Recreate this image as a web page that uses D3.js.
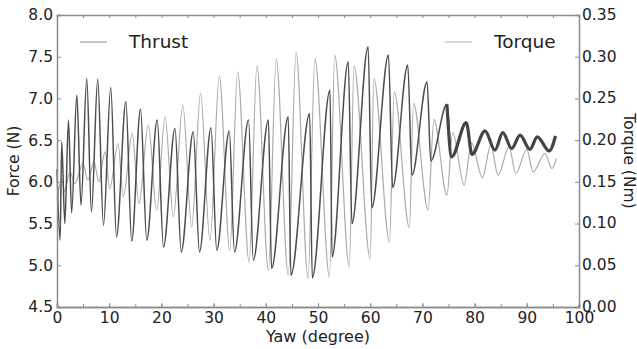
<!DOCTYPE html>
<html>
<head>
<meta charset="utf-8">
<script src="https://cdn.jsdelivr.net/npm/d3@7"></script>
<style>
  body { margin: 0; background: #fff; }
  svg { display: block; font-family: 'DejaVu Sans', sans-serif; }
</style>
</head>
<body>
<div class="container"></div>
<script>
// peaks / troughs (yaw in degrees)
const thrustYaw = [0, 0.6, 0.9, 1.5, 2.2, 2.8, 3.8, 4.6, 5.7, 6.6, 7.8, 8.9, 10.3, 11.4, 13.2, 14.3,
    16.0, 17.2, 19.2, 20.4, 22.6, 23.8, 26.1, 27.3, 29.5, 30.6, 33.0, 34.0, 36.7, 37.6, 40.5, 41.1,
    44.3, 44.8, 48.4, 48.9, 52.3, 52.7, 55.8, 56.5, 59.6, 60.3, 63.5, 64.3, 67.2, 68.0, 70.9, 71.6,
    74.7, 75.6, 78.4, 79.5, 82.0, 83.9, 85.4, 87.1, 88.7, 90.6, 92.0, 94.3, 95.5];
const thrustN = [6.15, 5.30, 6.48, 5.50, 6.74, 5.63, 7.04, 5.72, 7.24, 5.64, 7.23, 5.48, 7.13, 5.34, 6.96, 5.29,
    6.87, 5.30, 6.74, 5.22, 6.64, 5.16, 6.60, 5.16, 6.65, 5.18, 6.61, 5.16, 6.74, 5.06, 6.74, 4.96,
    6.78, 4.88, 6.82, 4.85, 7.10, 5.10, 7.44, 5.50, 7.62, 5.69, 7.52, 5.93, 7.40, 6.08, 7.20, 6.25,
    6.93, 6.30, 6.71, 6.33, 6.61, 6.38, 6.59, 6.40, 6.56, 6.39, 6.54, 6.37, 6.55];

const torqueYaw = [0, 1.0, 1.4, 2.5, 3.4, 5.0, 5.9, 7.1, 8.0, 9.2, 10.1, 11.7, 12.7, 14.4, 15.7, 17.5,
    19.1, 20.7, 22.3, 24.1, 25.8, 27.5, 29.3, 31.1, 33.1, 34.6, 36.8, 38.3, 40.5, 42.0, 44.3, 45.8,
    48.1, 49.4, 52.2, 53.2, 56.0, 56.9, 60.0, 60.7, 63.7, 64.6, 67.5, 68.3, 71.1, 72.2, 74.7, 75.8,
    78.0, 79.4, 81.5, 83.1, 84.5, 86.6, 87.9, 90.0, 91.2, 93.5, 94.8, 95.7];
const torqueNm = [0.130, 0.152, 0.138, 0.162, 0.148, 0.172, 0.152, 0.174, 0.150, 0.186, 0.142, 0.196, 0.132, 0.208, 0.124, 0.218,
    0.116, 0.228, 0.108, 0.242, 0.096, 0.256, 0.080, 0.277, 0.068, 0.282, 0.054, 0.289, 0.044, 0.297, 0.038, 0.305,
    0.034, 0.298, 0.036, 0.302, 0.048, 0.289, 0.058, 0.274, 0.078, 0.258, 0.095, 0.244, 0.116, 0.225, 0.134, 0.209,
    0.146, 0.197, 0.155, 0.194, 0.158, 0.192, 0.160, 0.189, 0.162, 0.184, 0.166, 0.178];

const xTicks = [0, 10, 20, 30, 40, 50, 60, 70, 80, 90, 100];
const forceTicks = [4.5, 5.0, 5.5, 6.0, 6.5, 7.0, 7.5, 8.0];
const torqueTicks = [0.00, 0.05, 0.10, 0.15, 0.20, 0.25, 0.30, 0.35];

const width = 637, height = 349;
const margin = {top: 15, right: 58, bottom: 42, left: 57};

const svg = d3.select('.container')
    .append('svg')
    .attr('width', width)
    .attr('height', height);

const x = d3.scaleLinear().domain([0, 100]).range([margin.left, width - margin.right]);
const yF = d3.scaleLinear().domain([4.5, 8.0]).range([height - margin.bottom, margin.top]);
const yT = d3.scaleLinear().domain([0, 0.35]).range([height - margin.bottom, margin.top]);

const thrust = thrustYaw.map((d, i) => ({x: d, y: thrustN[i]}));
const torque = torqueYaw.map((d, i) => ({x: d, y: torqueNm[i]}));

const lineF = d3.line().x(d => x(d.x)).y(d => yF(d.y)).curve(d3.curveMonotoneX);
const lineT = d3.line().x(d => x(d.x)).y(d => yT(d.y)).curve(d3.curveMonotoneX);

svg.append('path')
    .datum(torque)
    .attr('fill', 'none')
    .attr('stroke', '#ababab')
    .attr('stroke-width', 1.2)
    .attr('d', lineT);

svg.append('path')
    .datum(thrust)
    .attr('fill', 'none')
    .attr('stroke', '#4d4d4d')
    .attr('stroke-width', 1.5)
    .attr('d', lineF);

// the thrust tail is a noisy thick band in the original
svg.append('path')
    .datum(thrust.filter(d => d.x >= 74.7))
    .attr('fill', 'none')
    .attr('stroke', '#444')
    .attr('stroke-width', 3.2)
    .attr('d', lineF);

// axes, ticks pointing inward
const minorX = d3.range(0, 101, 5);
const axisColor = '#8c8c8c';

const gB = svg.append('g')
    .attr('transform', `translate(0,${height - margin.bottom})`)
    .call(d3.axisBottom(x).tickValues(xTicks).tickSize(-4).tickPadding(5).tickFormat(d3.format('d')));
const gBm = svg.append('g')
    .attr('transform', `translate(0,${height - margin.bottom})`)
    .call(d3.axisBottom(x).tickValues(minorX).tickSize(-3).tickFormat(''));
const gT = svg.append('g')
    .attr('transform', `translate(0,${margin.top})`)
    .call(d3.axisTop(x).tickValues(minorX).tickSize(-3).tickFormat(''));
const gL = svg.append('g')
    .attr('transform', `translate(${margin.left},0)`)
    .call(d3.axisLeft(yF).tickValues(forceTicks).tickSize(-4).tickPadding(4).tickFormat(d3.format('.1f')));
const gR = svg.append('g')
    .attr('transform', `translate(${width - margin.right},0)`)
    .call(d3.axisRight(yT).tickValues(torqueTicks).tickSize(-4).tickPadding(3).tickFormat(d3.format('.2f')));

[gB, gBm, gT, gL, gR].forEach(g => {
    g.select('.domain').attr('stroke', axisColor).attr('stroke-width', 1.5);
    g.selectAll('.tick line').attr('stroke', axisColor);
    g.selectAll('.tick text').attr('font-size', 15.5).attr('fill', '#222')
        .attr('font-family', 'DejaVu Sans, sans-serif');
});
gR.selectAll('.tick text').attr('dy', '0.28em');

// axis titles
svg.append('text')
    .attr('x', (margin.left + width - margin.right) / 2)
    .attr('y', 342)
    .attr('text-anchor', 'middle')
    .attr('font-size', 16)
    .attr('fill', '#222')
    .text('Yaw (degree)');

svg.append('text')
    .attr('transform', `translate(19,${(margin.top + height - margin.bottom) / 2}) rotate(-90)`)
    .attr('text-anchor', 'middle')
    .attr('font-size', 15.5)
    .attr('fill', '#222')
    .text('Force (N)');

svg.append('text')
    .attr('transform', `translate(624,${(margin.top + height - margin.bottom) / 2}) rotate(90)`)
    .attr('text-anchor', 'middle')
    .attr('font-size', 15.5)
    .attr('fill', '#222')
    .text('Torque (Nm)');

// legends
const legends = [
    {label: 'Thrust', color: '#b0b0b0', x0: 80},
    {label: 'Torque', color: '#cbcbcb', x0: 445}
];
legends.forEach(l => {
    svg.append('line')
        .attr('x1', l.x0).attr('x2', l.x0 + 27)
        .attr('y1', 42).attr('y2', 42)
        .attr('stroke', l.color).attr('stroke-width', 1.5);
    svg.append('text')
        .attr('x', l.x0 + 49)
        .attr('y', 48)
        .attr('font-size', 18.5)
        .attr('fill', '#222')
        .text(l.label);
});
</script>
</body>
</html>
